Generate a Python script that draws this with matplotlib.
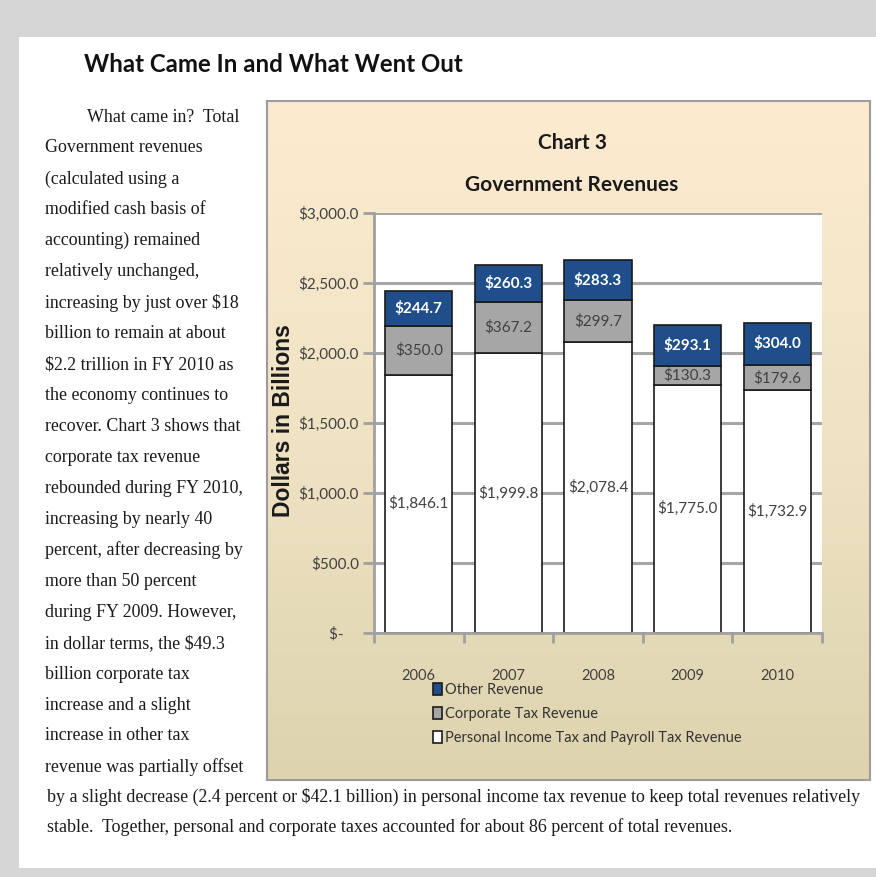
import numpy as np
import matplotlib.pyplot as plt
from matplotlib.patches import Rectangle
from matplotlib.colors import LinearSegmentedColormap
from matplotlib.ticker import FuncFormatter

# chart data (billions of dollars)
years = ['2006', '2007', '2008', '2009', '2010']
personal = [1846.1, 1999.8, 2078.4, 1775.0, 1732.9]
corporate = [350.0, 367.2, 299.7, 130.3, 179.6]
other = [244.7, 260.3, 283.3, 293.1, 304.0]

left_lines = [
    'What came in?  Total',
    'Government revenues',
    '(calculated using a',
    'modified cash basis of',
    'accounting) remained',
    'relatively unchanged,',
    'increasing by just over $18',
    'billion to remain at about',
    '$2.2 trillion in FY 2010 as',
    'the economy continues to',
    'recover. Chart 3 shows that',
    'corporate tax revenue',
    'rebounded during FY 2010,',
    'increasing by nearly 40',
    'percent, after decreasing by',
    'more than 50 percent',
    'during FY 2009. However,',
    'in dollar terms, the $49.3',
    'billion corporate tax',
    'increase and a slight',
    'increase in other tax',
    'revenue was partially offset',
]
bottom_lines = [
    'by a slight decrease (2.4 percent or $42.1 billion) in personal income tax revenue to keep total revenues relatively',
    'stable.  Together, personal and corporate taxes accounted for about 86 percent of total revenues.',
]

plt.rcParams['font.family'] = ['Lato', 'DejaVu Sans']
serif = ['Liberation Serif', 'DejaVu Serif']

W, H = 876, 877


def box(x0, y0, x1, y1):
    return [x0 / W, 1 - y1 / H, (x1 - x0) / W, (y1 - y0) / H]


fig = plt.figure(figsize=(W / 100, H / 100), dpi=100, facecolor='#d6d6d6')
fig.patches.append(Rectangle((19 / W, 1 - 868 / H), (876 - 19) / W, (868 - 37) / H,
                             transform=fig.transFigure, facecolor='white',
                             edgecolor='none', zorder=-5))

# page text
fig.text(84 / W, 1 - 65 / H, 'What Came In and What Went Out', fontsize=17.3,
         fontweight='bold', va='center', ha='left', color='#111111')
for i, line in enumerate(left_lines):
    x = 87 if i == 0 else 45
    fig.text(x / W, 1 - (117 + i * 30.95) / H, line, family=serif, fontsize=12.9,
             va='center', ha='left', color='#1a1a1a')
for i, line in enumerate(bottom_lines):
    fig.text(47 / W, 1 - (797 + i * 30.5) / H, line, family=serif, fontsize=12.9,
             va='center', ha='left', color='#1a1a1a')

# chart box with gradient
bg = fig.add_axes(box(267, 101, 870, 780))
grad = np.linspace(0, 1, 256)[:, None]
cmap = LinearSegmentedColormap.from_list('bgfill', ['#fdebd0', '#efe3c4', '#ddd3ae'])
bg.imshow(grad, aspect='auto', cmap=cmap, extent=[0, 1, 0, 1])
bg.set_xticks([])
bg.set_yticks([])
for s in bg.spines.values():
    s.set_color('#9c9c9c')
    s.set_linewidth(1.5)

fig.text(572 / W, 1 - 143 / H, 'Chart 3', fontsize=15, fontweight='bold',
         ha='center', va='center', color='#1a1a1a')
fig.text(572 / W, 1 - 185 / H, 'Government Revenues', fontsize=15, fontweight='bold',
         ha='center', va='center', color='#1a1a1a')
fig.text(283 / W, 1 - 421 / H, 'Dollars in Billions', family=['Liberation Sans', 'DejaVu Sans'],
         fontsize=16.5, fontweight='bold', rotation=90, ha='center', va='center',
         color='#1a1a1a')

ax = fig.add_axes(box(374, 213, 822, 633))
ax.set_facecolor('white')
x = np.arange(len(years))
edge = '#1a1a1a'
b1 = ax.bar(x, personal, 0.75, color='white', edgecolor=edge, linewidth=1.2,
            label='Personal Income Tax and Payroll Tax Revenue')
b2 = ax.bar(x, corporate, 0.75, bottom=personal, color='#a6a6a6', edgecolor=edge,
            linewidth=1.2, label='Corporate Tax Revenue')
base3 = [p + c for p, c in zip(personal, corporate)]
b3 = ax.bar(x, other, 0.75, bottom=base3, color='#1f4e8a', edgecolor=edge,
            linewidth=1.2, label='Other Revenue')

ax.bar_label(b1, labels=['${:,.1f}'.format(v) for v in personal], label_type='center',
             fontsize=11, color='#404040')
ax.bar_label(b2, labels=['${:,.1f}'.format(v) for v in corporate], label_type='center',
             fontsize=11, color='#404040')
ax.bar_label(b3, labels=['${:,.1f}'.format(v) for v in other], label_type='center',
             fontsize=11, color='white', fontweight='bold')

ax.set_xlim(-0.5, 4.5)
ax.set_ylim(0, 3000)
ax.set_yticks(range(0, 3001, 500))
ax.yaxis.set_major_formatter(FuncFormatter(lambda v, p: '${:,.1f}'.format(v) if v else '$-    '))
ax.tick_params(axis='y', length=8, width=2, color='#a0a0a0', labelcolor='#404040',
               labelsize=11, pad=3)
ax.yaxis.grid(True, color='#a6a6a6', linewidth=2.2)
ax.set_axisbelow(True)

ax.set_xticks(np.arange(-0.5, 5, 1))
ax.set_xticklabels([])
ax.tick_params(axis='x', which='major', length=7, width=2, color='#a0a0a0')
ax.set_xticks(x, minor=True)
ax.set_xticklabels(years, minor=True)
ax.tick_params(axis='x', which='minor', length=0, pad=26, labelsize=10.5, labelcolor='#404040')

for s in ['top', 'right']:
    ax.spines[s].set_visible(False)
for s in ['left', 'bottom']:
    ax.spines[s].set_color('#a0a0a0')
    ax.spines[s].set_linewidth(2)

fig.legend(handles=[b3, b2, b1], loc='upper left', bbox_to_anchor=(433 / W, 1 - 683 / H),
           frameon=False, fontsize=10.5, handlelength=0.6, handleheight=0.9,
           handletextpad=0.25, labelspacing=0.68, borderpad=0, borderaxespad=0,
           labelcolor='#333333')

fig.savefig('out.png', dpi=100, facecolor=fig.get_facecolor())
